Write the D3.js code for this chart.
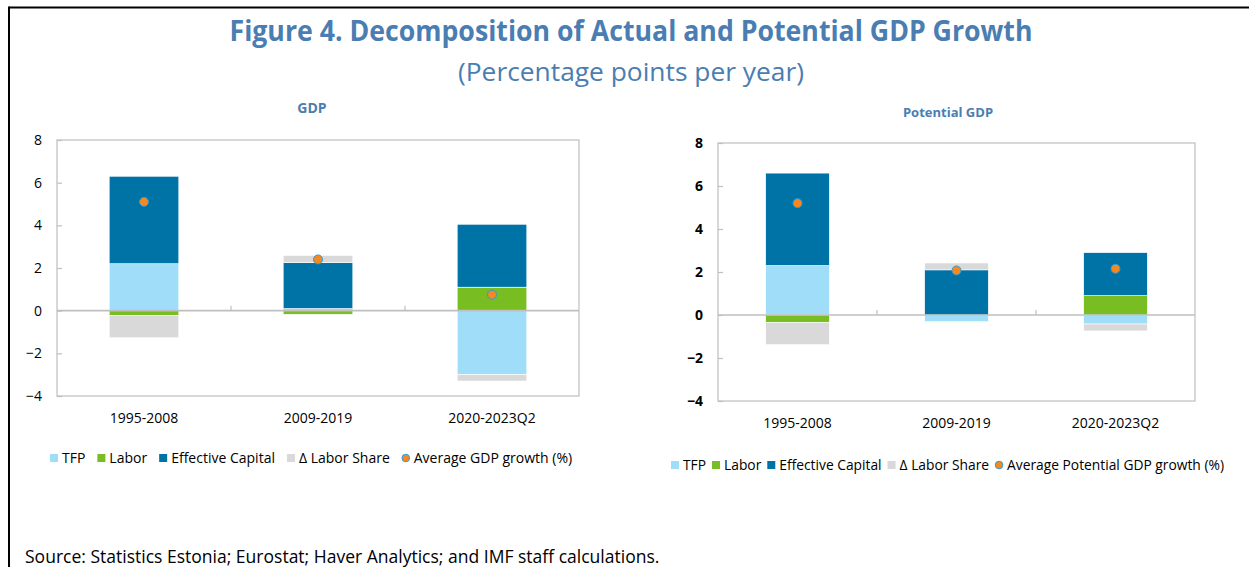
<!DOCTYPE html>
<html>
<head>
<meta charset="utf-8">
<script src="https://cdn.jsdelivr.net/npm/d3@7"></script>
<style>
body { margin: 0; background: #fff; }
svg text { font-family: "Open Sans", sans-serif; }
</style>
</head>
<body>
<svg id="fig" width="1249" height="567"></svg>
<script>
// data
var periods = ["1995-2008", "2009-2019", "2020-2023Q2"];
var seriesKeys = ["tfp", "labor", "capital", "share"];
var seriesNames = ["TFP", "Labor", "Effective Capital", "\u0394 Labor Share"];
var yTicks = [-4, -2, 0, 2, 4, 6, 8];

var gdpTfp = [2.2, 0.1, -3.0];
var gdpLabor = [-0.22, -0.17, 1.1];
var gdpCapital = [4.1, 2.15, 2.95];
var gdpShare = [-1.05, 0.34, -0.3];
var gdpAverage = [5.1, 2.4, 0.75];

var potTfp = [2.3, -0.3, -0.42];
var potLabor = [-0.35, -0.03, 0.9];
var potCapital = [4.3, 2.1, 2.0];
var potShare = [-1.03, 0.32, -0.32];
var potAverage = [5.2, 2.07, 2.15];

var color = d3.scaleOrdinal()
    .domain(seriesKeys)
    .range(["#9fddf9", "#78bd22", "#0073a6", "#d9d9d9"]);
var titleColor = "#4a7db1";
var gridColor = "#bfbfbf";

var svg = d3.select("#fig");

// outer frame (top and left only)
svg.append("line").attr("x1", 9).attr("x2", 1249).attr("y1", 7.5).attr("y2", 7.5)
    .attr("stroke", "#000").attr("stroke-width", 2);
svg.append("line").attr("x1", 9).attr("x2", 9).attr("y1", 6.5).attr("y2", 567)
    .attr("stroke", "#000").attr("stroke-width", 2);

svg.append("text")
    .attr("x", 631).attr("y", 41)
    .attr("text-anchor", "middle")
    .attr("textLength", 803).attr("lengthAdjust", "spacingAndGlyphs")
    .style("font-size", "28px").style("font-weight", "bold")
    .attr("fill", titleColor)
    .text("Figure 4. Decomposition of Actual and Potential GDP Growth");
svg.append("text")
    .attr("x", 631).attr("y", 81)
    .attr("text-anchor", "middle")
    .attr("textLength", 346).attr("lengthAdjust", "spacingAndGlyphs")
    .style("font-size", "25px")
    .attr("fill", titleColor)
    .text("(Percentage points per year)");

var src = svg.append("text")
    .attr("x", 25).attr("y", 563)
    .style("font-size", "16px")
    .attr("fill", "#000")
    .text("Source: Statistics Estonia; Eurostat; Haver Analytics; and IMF staff calculations.");
fitWidth(src, 635);

function fitWidth(sel, w) {
    var size = parseFloat(sel.style("font-size"));
    var len = sel.node().getComputedTextLength();
    sel.style("font-size", (size * w / len) + "px");
}

function buildRows(tfp, labor, capital, share, avg) {
    var rows = [];
    for (var i = 0; i < periods.length; i++) {
        rows.push({period: periods[i], tfp: tfp[i], labor: labor[i], capital: capital[i], share: share[i], avg: avg[i]});
    }
    return rows;
}

function drawPanel(opt) {
    var g = svg.append("g");
    var x = d3.scaleBand().domain(periods).range([opt.left, opt.right]).padding(0);
    var y = d3.scaleLinear().domain([-4, 8]).range([opt.bottom, opt.top]);
    var barW = x.bandwidth() * 0.4;

    g.append("text")
        .attr("x", opt.titleX).attr("y", opt.titleY)
        .attr("text-anchor", "middle")
        .style("font-size", opt.titleSize).style("font-weight", "bold")
        .attr("fill", titleColor)
        .text(opt.title);

    // plot frame
    g.append("rect")
        .attr("x", opt.left).attr("y", opt.top)
        .attr("width", opt.right - opt.left).attr("height", opt.bottom - opt.top)
        .attr("fill", "none").attr("stroke", gridColor).attr("stroke-width", 1.2);

    var yAxis = g.append("g")
        .attr("transform", "translate(" + opt.left + ",0)")
        .call(d3.axisLeft(y).tickValues(yTicks).tickSize(-5).tickPadding(15).tickFormat(d3.format("d")));
    yAxis.select(".domain").remove();
    yAxis.selectAll("line").attr("stroke", gridColor).attr("stroke-width", 1.2);
    yAxis.selectAll("text")
        .style("font-size", "14px")
        .style("font-weight", opt.boldTicks ? "bold" : "normal")
        .attr("fill", "#000");

    var stack = d3.stack().keys(seriesKeys).offset(d3.stackOffsetDiverging);
    var layers = stack(opt.rows);

    g.selectAll("g.layer")
        .data(layers)
        .enter()
        .append("g")
        .attr("class", "layer")
        .attr("fill", function (d) { return color(d.key); })
        .selectAll("rect")
        .data(function (d) { return d; })
        .enter()
        .append("rect")
        .attr("x", function (d) { return x(d.data.period) + (x.bandwidth() - barW) / 2; })
        .attr("width", barW)
        .attr("y", function (d) { return y(Math.max(d[0], d[1])); })
        .attr("height", function (d) { return Math.abs(y(d[0]) - y(d[1])); })
        .attr("stroke", "#fff").attr("stroke-width", 0.6);

    // zero line and category ticks
    g.append("line")
        .attr("x1", opt.left).attr("x2", opt.right)
        .attr("y1", y(0)).attr("y2", y(0))
        .attr("stroke", gridColor).attr("stroke-width", 1.6);
    g.selectAll("line.xtick")
        .data(periods.slice(1))
        .enter()
        .append("line")
        .attr("class", "xtick")
        .attr("x1", function (d) { return x(d); })
        .attr("x2", function (d) { return x(d); })
        .attr("y1", y(0)).attr("y2", y(0) - 5)
        .attr("stroke", gridColor).attr("stroke-width", 1.2);

    g.selectAll("text.xlab")
        .data(periods)
        .enter()
        .append("text")
        .attr("class", "xlab")
        .attr("x", function (d) { return x(d) + x.bandwidth() / 2; })
        .attr("y", opt.bottom + 27)
        .attr("text-anchor", "middle")
        .style("font-size", "14px")
        .attr("fill", "#000")
        .text(function (d) { return d; });

    g.selectAll("circle.avg")
        .data(opt.rows)
        .enter()
        .append("circle")
        .attr("class", "avg")
        .attr("cx", function (d) { return x(d.period) + x.bandwidth() / 2; })
        .attr("cy", function (d) { return y(d.avg); })
        .attr("r", 4.5)
        .attr("fill", "#f7881f")
        .attr("stroke", "#2e9bd6").attr("stroke-width", 1);

    // legend, laid out left to right
    var lx = opt.legendX;
    var ly = opt.legendY;
    var items = seriesNames.concat([opt.avgName]);
    for (var i = 0; i < items.length; i++) {
        if (i < seriesKeys.length) {
            g.append("rect")
                .attr("x", lx).attr("y", ly - 4)
                .attr("width", 8).attr("height", 8)
                .attr("fill", color(seriesKeys[i]));
        } else {
            g.append("circle")
                .attr("cx", lx + 4).attr("cy", ly)
                .attr("r", 3.8)
                .attr("fill", "#f7881f")
                .attr("stroke", "#2e9bd6").attr("stroke-width", 1);
        }
        var t = g.append("text")
            .attr("x", lx + 12).attr("y", ly + 5)
            .style("font-size", opt.legendSize)
            .attr("fill", "#000")
            .text(items[i]);
        lx = lx + 12 + t.node().getComputedTextLength() + opt.legendGap;
    }
}

drawPanel({
    title: "GDP", titleX: 312, titleY: 113, titleSize: "14px",
    rows: buildRows(gdpTfp, gdpLabor, gdpCapital, gdpShare, gdpAverage),
    left: 57, right: 579, top: 140, bottom: 396,
    boldTicks: false,
    avgName: "Average GDP growth (%)",
    legendX: 50, legendY: 458, legendGap: 12, legendSize: "14px"
});

drawPanel({
    title: "Potential GDP", titleX: 948, titleY: 117, titleSize: "13px",
    rows: buildRows(potTfp, potLabor, potCapital, potShare, potAverage),
    left: 718, right: 1195, top: 143, bottom: 401,
    boldTicks: true,
    avgName: "Average Potential GDP growth (%)",
    legendX: 671, legendY: 465, legendGap: 6, legendSize: "13.8px"
});
</script>
</body>
</html>
